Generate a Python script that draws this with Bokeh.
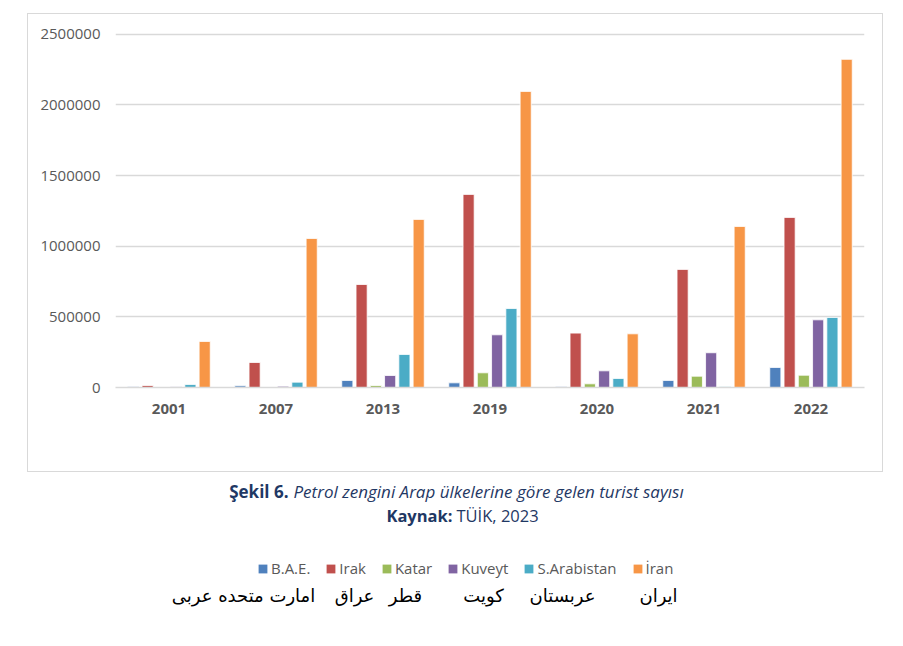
from bokeh.plotting import figure
from bokeh.layouts import column
from bokeh.models import (FactorRange, Range1d, FixedTicker, BasicTickFormatter,
                          Legend, LegendItem, ColumnDataSource)
from bokeh.core.properties import value
from bokeh.transform import dodge
from bokeh.embed import file_html
from bokeh.resources import INLINE

years = ["2001", "2007", "2013", "2019", "2020", "2021", "2022"]
bae = [5000, 12000, 50000, 33000, 5000, 50000, 142000]
irak = [14000, 177000, 729000, 1367000, 385000, 836000, 1204000]
katar = [1000, 3000, 14000, 104000, 26000, 80000, 87000]
kuveyt = [6000, 9000, 85000, 373000, 118000, 246000, 479000]
s_arabistan = [21000, 38000, 234000, 559000, 64000, 7000, 496000]
iran = [326000, 1055000, 1190000, 2096000, 380000, 1140000, 2323000]
series_names = ["B.A.E.", "Irak", "Katar", "Kuveyt", "S.Arabistan", "İran"]
persian_names = ["امارت متحده عربی", "عراق", "قطر", "کویت", "عربستان", "ایران"]
y_ticks = [0, 500000, 1000000, 1500000, 2000000, 2500000]
caption_bold_1 = "Şekil 6."
caption_italic_1 = "Petrol zengini Arap ülkelerine göre gelen turist sayısı"
caption_bold_2 = "Kaynak:"
caption_normal_2 = "TÜİK, 2023"

colors = ["#4F81BD", "#C0504D", "#9BBB59", "#8064A2", "#4BACC6", "#F79646"]
series = [bae, irak, katar, kuveyt, s_arabistan, iran]
keys = ["bae", "irak", "katar", "kuveyt", "sa", "iran"]

data = {"year": years}
for k, s in zip(keys, series):
    data[k] = s
source = ColumnDataSource(data)

# ---------------- chart (boxed) ----------------
p = figure(width=856, height=459,
           x_range=FactorRange(*years, range_padding=0),
           y_range=Range1d(0, 2520000),
           output_backend="svg", toolbar_location=None,
           min_border_left=87, min_border_right=20,
           min_border_top=17, min_border_bottom=86,
           margin=(13, 0, 0, 27))
p.frame_align = False
p.styles = {"border": "1px solid #d9d9d9"}
p.outline_line_color = None
p.background_fill_color = "white"
p.border_fill_color = "white"

offsets = [-0.3335, -0.2, -0.0667, 0.0667, 0.2, 0.3335]
for k, c, off in zip(keys, colors, offsets):
    p.vbar(x=dodge("year", off, range=p.x_range), top=k, width=0.104,
           source=source, fill_color=c, line_color="white", line_width=0.8)

p.xaxis.axis_line_color = "#d9d9d9"
p.xaxis.axis_line_width = 1.5
p.xaxis.major_tick_line_color = None
p.xaxis.minor_tick_line_color = None
p.xaxis.major_tick_out = 0
p.xaxis.major_tick_in = 0
p.xaxis.major_label_text_font = "Open Sans"
p.xaxis.major_label_text_font_style = "bold"
p.xaxis.major_label_text_font_size = "15px"
p.xaxis.major_label_text_color = "#595959"
p.xaxis.major_label_standoff = 16

p.yaxis.axis_line_color = None
p.yaxis.major_tick_line_color = None
p.yaxis.minor_tick_line_color = None
p.yaxis.major_tick_out = 0
p.yaxis.major_tick_in = 0
p.yaxis.ticker = FixedTicker(ticks=y_ticks)
p.yaxis.formatter = BasicTickFormatter(use_scientific=False)
p.yaxis.major_label_text_font = "Open Sans"
p.yaxis.major_label_text_font_size = "15px"
p.yaxis.major_label_text_color = "#595959"
p.yaxis.major_label_standoff = 15

p.xgrid.grid_line_color = None
p.ygrid.grid_line_color = "#d9d9d9"
p.ygrid.grid_line_width = 1.5
p.ygrid.ticker = FixedTicker(ticks=y_ticks)

# ---------------- caption + legend ----------------
H2 = 172
q = figure(width=903, height=H2, x_range=Range1d(0, 903), y_range=Range1d(H2, 0),
           output_backend="svg", toolbar_location=None,
           x_axis_location=None, y_axis_location=None,
           min_border_left=0, min_border_right=0, min_border_top=0, min_border_bottom=0)
q.frame_align = False
q.grid.visible = False
q.outline_line_color = None
q.border_fill_color = "white"

cap_color = "#1f3864"
cap_size = "17px"
q.text(x=[288], y=[19], text=[caption_bold_1], text_align="right", text_baseline="middle",
       text_font=value("Open Sans"), text_font_style="bold",
       text_font_size=cap_size, text_color=cap_color)
q.text(x=[293], y=[19], text=[caption_italic_1], text_align="left", text_baseline="middle",
       text_font=value("Open Sans"), text_font_style="italic",
       text_font_size=cap_size, text_color=cap_color)
q.text(x=[452], y=[43], text=[caption_bold_2], text_align="right", text_baseline="middle",
       text_font=value("Open Sans"), text_font_style="bold",
       text_font_size="16.5px", text_color=cap_color)
q.text(x=[456], y=[43], text=[caption_normal_2], text_align="left", text_baseline="middle",
       text_font=value("Open Sans"), text_font_style="normal",
       text_font_size="16.5px", text_color=cap_color)

# legend proxies: NaN data, nothing is drawn, they only provide the swatches
nan = float("nan")
legend_items = []
for n, c in zip(series_names, colors):
    r = q.vbar(x=[nan], top=[nan], width=1, fill_color=c, line_color=None)
    legend_items.append(LegendItem(label=n, renderers=[r]))
legend = Legend(items=legend_items, location=(257, H2 - 97 - 9), orientation="horizontal",
                glyph_width=11, glyph_height=11, label_height=18, label_standoff=3, spacing=15,
                padding=0, margin=0, border_line_color=None, background_fill_alpha=0,
                label_text_font="Open Sans", label_text_font_size="15px",
                label_text_color="#595959")
q.add_layout(legend)

persian_x = [243, 354, 405, 483, 562, 658]
q.text(x=persian_x, y=[123] * len(persian_x), text=persian_names,
       text_align="center", text_baseline="middle",
       text_font=value("DejaVu Sans"), text_font_size="18px", text_color="black")

layout = column(p, q, spacing=0)
open("out.html", "w").write(file_html(layout, INLINE))
